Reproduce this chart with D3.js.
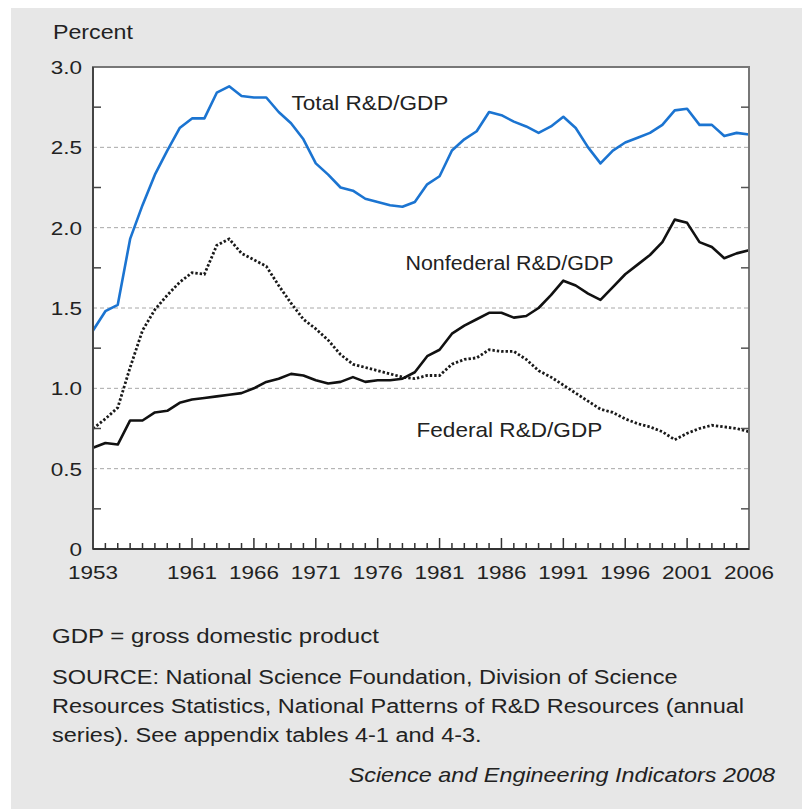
<!DOCTYPE html>
<html>
<head>
<meta charset="utf-8">
<script src="https://cdn.jsdelivr.net/npm/d3@7"></script>
<style>
  body { margin: 0; background: #fff; }
  svg { display: block; }
  text { font-family: "Liberation Sans", Arial, Helvetica, sans-serif; fill: #222; }
</style>
</head>
<body>
<div id="chart-area"></div>
<script>

var years = [1953, 1954, 1955, 1956, 1957, 1958, 1959, 1960, 1961, 1962,
    1963, 1964, 1965, 1966, 1967, 1968, 1969, 1970, 1971, 1972,
    1973, 1974, 1975, 1976, 1977, 1978, 1979, 1980, 1981, 1982,
    1983, 1984, 1985, 1986, 1987, 1988, 1989, 1990, 1991, 1992,
    1993, 1994, 1995, 1996, 1997, 1998, 1999, 2000, 2001, 2002,
    2003, 2004, 2005, 2006];

var totalRD = [1.36, 1.48, 1.52, 1.93, 2.14, 2.33, 2.48, 2.62, 2.68, 2.68,
    2.84, 2.88, 2.82, 2.81, 2.81, 2.72, 2.65, 2.55, 2.40, 2.33,
    2.25, 2.23, 2.18, 2.16, 2.14, 2.13, 2.16, 2.27, 2.32, 2.48,
    2.55, 2.60, 2.72, 2.70, 2.66, 2.63, 2.59, 2.63, 2.69, 2.62,
    2.50, 2.40, 2.48, 2.53, 2.56, 2.59, 2.64, 2.73, 2.74, 2.64,
    2.64, 2.57, 2.59, 2.58];

var nonfederalRD = [0.63, 0.66, 0.65, 0.80, 0.80, 0.85, 0.86, 0.91, 0.93, 0.94,
    0.95, 0.96, 0.97, 1.00, 1.04, 1.06, 1.09, 1.08, 1.05, 1.03,
    1.04, 1.07, 1.04, 1.05, 1.05, 1.06, 1.10, 1.20, 1.24, 1.34,
    1.39, 1.43, 1.47, 1.47, 1.44, 1.45, 1.50, 1.58, 1.67, 1.64,
    1.59, 1.55, 1.63, 1.71, 1.77, 1.83, 1.91, 2.05, 2.03, 1.91,
    1.88, 1.81, 1.84, 1.86];

var federalRD = [0.75, 0.81, 0.88, 1.13, 1.36, 1.49, 1.58, 1.66, 1.72, 1.71,
    1.89, 1.93, 1.84, 1.80, 1.76, 1.64, 1.53, 1.43, 1.37, 1.30,
    1.21, 1.15, 1.13, 1.11, 1.09, 1.07, 1.06, 1.08, 1.08, 1.15,
    1.18, 1.19, 1.24, 1.23, 1.23, 1.18, 1.11, 1.07, 1.02, 0.97,
    0.92, 0.87, 0.85, 0.81, 0.78, 0.76, 0.73, 0.68, 0.72, 0.75,
    0.77, 0.76, 0.75, 0.73];

var yearLabels = [1953, 1961, 1966, 1971, 1976, 1981, 1986, 1991, 1996, 2001, 2006];
var yLabels = [0, 0.5, 1.0, 1.5, 2.0, 2.5, 3.0];
var yMinor = [0.25, 0.75, 1.25, 1.75, 2.25, 2.75];

var footLines = ["SOURCE: National Science Foundation, Division of Science",
    "Resources Statistics, National Patterns of R&D Resources (annual",
    "series). See appendix tables 4-1 and 4-3."];

var W = 802, H = 809;
var plot = { left: 93, right: 749, top: 67, bottom: 549 };

var svg = d3.select("#chart-area")
    .append("svg")
    .attr("width", W)
    .attr("height", H);

// grey panel behind everything
svg.append("rect")
    .attr("x", 11).attr("y", 8)
    .attr("width", W - 11).attr("height", H - 8)
    .attr("fill", "#e7e7e7");

var x = d3.scaleLinear().domain([1953, 2006]).range([plot.left, plot.right]);
var y = d3.scaleLinear().domain([0, 3]).range([plot.bottom, plot.top]);

// text is a bit wide in the original, so stretch horizontally
function label(sel, px, py, s, size, sx, anchor)
{
    return sel.append("text")
        .attr("transform", "translate(" + px + "," + py + ") scale(" + sx + ",1)")
        .attr("text-anchor", anchor || "start")
        .style("font-size", size + "px")
        .text(s);
}

svg.append("rect")
    .attr("x", plot.left).attr("y", plot.top)
    .attr("width", plot.right - plot.left)
    .attr("height", plot.bottom - plot.top)
    .attr("fill", "#fff");

// dashed gridlines
svg.selectAll(".grid")
    .data(yLabels.filter(function(d){ return d > 0 && d < 3; }))
    .enter()
    .append("line")
    .attr("class", "grid")
    .attr("x1", plot.left).attr("x2", plot.right)
    .attr("y1", function(d){ return y(d); })
    .attr("y2", function(d){ return y(d); })
    .attr("stroke", "#a8a8a8")
    .attr("stroke-width", 1)
    .attr("stroke-dasharray", "4,3");

// series
var line = d3.line()
    .x(function(d, i){ return x(years[i]); })
    .y(function(d){ return y(d); });

svg.append("path")
    .datum(federalRD)
    .attr("d", line)
    .attr("fill", "none")
    .attr("stroke", "#1a1a1a")
    .attr("stroke-width", 2.8)
    .attr("stroke-dasharray", "2.4,2");

svg.append("path")
    .datum(nonfederalRD)
    .attr("d", line)
    .attr("fill", "none")
    .attr("stroke", "#111")
    .attr("stroke-width", 2.6)
    .attr("stroke-linejoin", "round");

svg.append("path")
    .datum(totalRD)
    .attr("d", line)
    .attr("fill", "none")
    .attr("stroke", "#1b74d1")
    .attr("stroke-width", 2.6)
    .attr("stroke-linejoin", "round");

// frame
svg.append("rect")
    .attr("x", plot.left).attr("y", plot.top)
    .attr("width", plot.right - plot.left)
    .attr("height", plot.bottom - plot.top)
    .attr("fill", "none")
    .attr("stroke", "#777")
    .attr("stroke-width", 2);

svg.append("line")
    .attr("x1", plot.left).attr("x2", plot.left)
    .attr("y1", plot.top).attr("y2", plot.bottom)
    .attr("stroke", "#444").attr("stroke-width", 2);

svg.append("line")
    .attr("x1", plot.left).attr("x2", plot.right)
    .attr("y1", plot.bottom).attr("y2", plot.bottom)
    .attr("stroke", "#333").attr("stroke-width", 2);

// y minor ticks, both sides
yMinor.forEach(function(v){
    svg.append("line")
        .attr("x1", plot.left).attr("x2", plot.left + 8)
        .attr("y1", y(v)).attr("y2", y(v))
        .attr("stroke", "#444").attr("stroke-width", 1.5);
    svg.append("line")
        .attr("x1", plot.right).attr("x2", plot.right - 8)
        .attr("y1", y(v)).attr("y2", y(v))
        .attr("stroke", "#555").attr("stroke-width", 1.5);
});

// x ticks every year, taller on labelled years
svg.selectAll(".xtick")
    .data(years.slice(1, -1))
    .enter()
    .append("line")
    .attr("class", "xtick")
    .attr("x1", function(d){ return x(d); })
    .attr("x2", function(d){ return x(d); })
    .attr("y1", plot.bottom)
    .attr("y2", function(d){ return plot.bottom - (yearLabels.indexOf(d) >= 0 ? 11 : 6); })
    .attr("stroke", "#333")
    .attr("stroke-width", 1.5);

// axis labels
yLabels.forEach(function(v){
    label(svg, 82, y(v) + 7, v === 0 ? "0" : v.toFixed(1), 18, 1.25, "end");
});

yearLabels.forEach(function(yr){
    label(svg, x(yr), 579, String(yr), 18, 1.25, "middle");
});

label(svg, 53, 39, "Percent", 19.5, 1.19);

// series labels
label(svg, 291.5, 110, "Total R&D/GDP", 20, 1.13);
label(svg, 405.5, 270, "Nonfederal R&D/GDP", 20, 1.07);
label(svg, 416.5, 437, "Federal R&D/GDP", 20, 1.13);

// footnotes
label(svg, 52, 643, "GDP = gross domestic product", 20, 1.2);
footLines.forEach(function(s, i){
    label(svg, 52, 684 + i * 29, s, 20, 1.175);
});
label(svg, 775, 782, "Science and Engineering Indicators 2008", 20, 1.17, "end")
    .style("font-style", "italic");

</script>
</body>
</html>
